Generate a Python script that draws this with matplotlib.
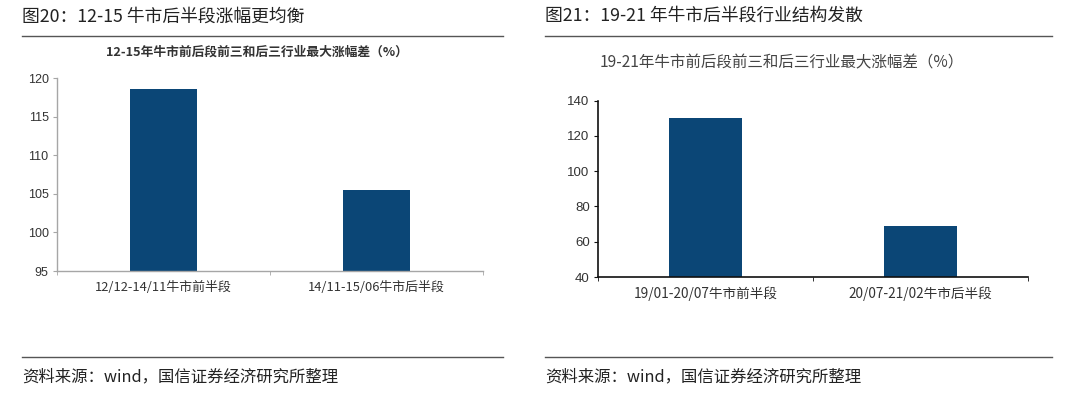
import matplotlib
matplotlib.use("Agg")
import matplotlib.pyplot as plt
from matplotlib.lines import Line2D

plt.rcParams['font.family'] = ['Noto Sans CJK SC', 'DejaVu Sans']

# Data
left_categories = ['12/12-14/11牛市前半段', '14/11-15/06牛市后半段']
left_values = [118.6, 105.5]
left_yticks = [95, 100, 105, 110, 115, 120]

right_categories = ['19/01-20/07牛市前半段', '20/07-21/02牛市后半段']
right_values = [130, 69]
right_yticks = [40, 60, 80, 100, 120, 140]

left_heading = '图20：12-15 牛市后半段涨幅更均衡'
right_heading = '图21：19-21 年牛市后半段行业结构发散'
left_title = '12-15年牛市前后段前三和后三行业最大涨幅差（%）'
right_title = '19-21年牛市前后段前三和后三行业最大涨幅差（%）'
source = '资料来源：wind，国信证券经济研究所整理'

BAR = '#0b4676'
W, H = 1080, 394
fig = plt.figure(figsize=(W / 100, H / 100), dpi=100)

def fx(px):
    return px / W

def fy(py):
    return 1 - py / H

# headings and rules
fig.text(fx(22), fy(17), left_heading, fontsize=12.8, va='center', ha='left', color='#222222')
fig.text(fx(545), fy(16), right_heading, fontsize=12.8, va='center', ha='left', color='#222222')
for x0, x1 in [(22, 503), (545, 1052)]:
    fig.add_artist(Line2D([fx(x0), fx(x1)], [fy(36), fy(36)], color='#555555', lw=1.0))
fig.add_artist(Line2D([fx(22), fx(503)], [fy(357), fy(357)], color='#555555', lw=1.0))
fig.add_artist(Line2D([fx(545), fx(1052)], [fy(357), fy(357)], color='#555555', lw=1.0))
fig.text(fx(22), fy(377), source, fontsize=11.8, va='center', ha='left', color='#222222')
fig.text(fx(545), fy(377), source, fontsize=11.8, va='center', ha='left', color='#222222')

# chart titles
fig.text(fx(257), fy(52), left_title, fontsize=9.2, fontweight='bold', ha='center', va='center', color='#333333')
fig.text(fx(782), fy(63), right_title, fontsize=11.2, ha='center', va='center', color='#444444')

def panel(rect, cats, vals, yticks, spine_color, bw, cat_fs, tick_fs):
    ax = fig.add_axes(rect)
    x = list(range(len(cats)))
    ax.bar(x, vals, width=bw, color=BAR, zorder=2)
    ax.set_xlim(-0.5, len(cats) - 0.5)
    ax.set_ylim(yticks[0], yticks[-1])
    ax.set_yticks(yticks)
    ax.set_xticks(x)
    ax.set_xticklabels(cats, fontsize=cat_fs, color='#333333')
    ax.set_xticks([i - 0.5 for i in range(len(cats) + 1)], minor=True)
    ax.tick_params(axis='x', which='major', length=0, pad=7)
    ax.tick_params(axis='x', which='minor', length=3, color=spine_color, direction='out')
    ax.tick_params(axis='y', length=3, color=spine_color, direction='out', labelsize=tick_fs,
                   labelcolor='#333333', pad=3)
    for lab in ax.get_yticklabels():
        lab.set_fontfamily('Liberation Sans')
    for s in ['top', 'right']:
        ax.spines[s].set_visible(False)
    for s in ['left', 'bottom']:
        ax.spines[s].set_color(spine_color)
        ax.spines[s].set_linewidth(1.0 if spine_color != '#111111' else 1.2)
    return ax

panel([fx(57), fy(271), fx(483) - fx(57), fy(78) - fy(271)],
      left_categories, left_values, left_yticks, '#a6a6a6', 0.315, 9.3, 9.0)
panel([fx(598), fy(277), fx(1028) - fx(598), fy(100.7) - fy(277)],
      right_categories, right_values, right_yticks, '#111111', 0.335, 9.8, 9.5)

fig.savefig('out.png', dpi=100)
